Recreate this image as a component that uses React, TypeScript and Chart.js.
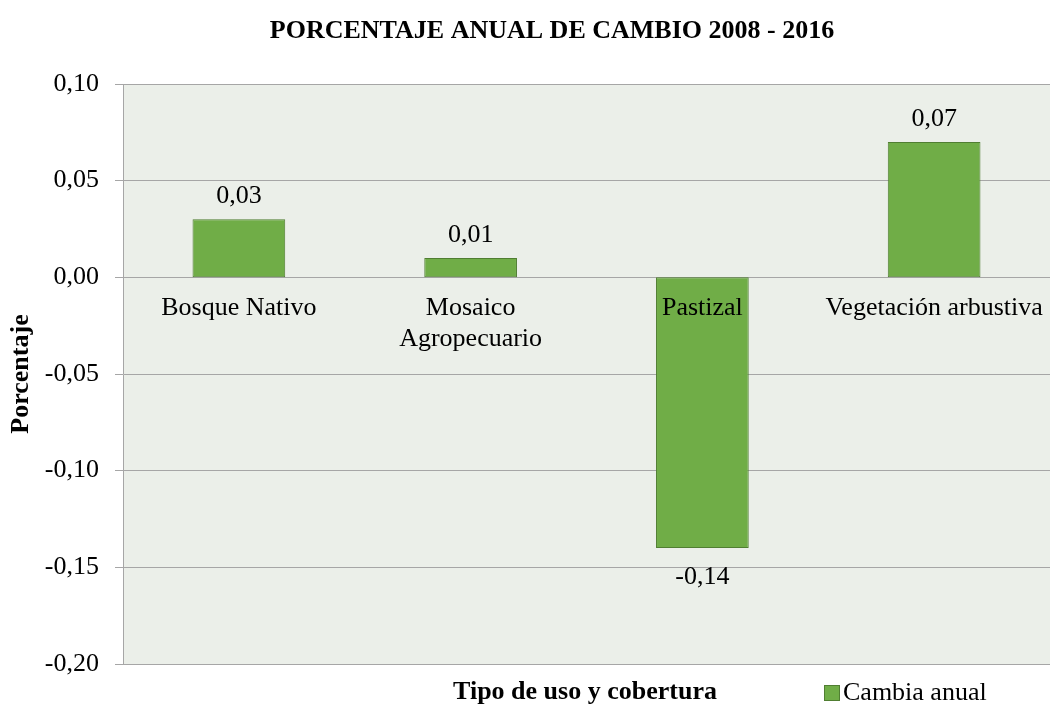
import React, { useEffect, useRef } from "react";
import { Chart, registerables } from "chart.js";

Chart.register(...registerables);

const categories: string[][] = [
  ["Bosque Nativo"],
  ["Mosaico", "Agropecuario"],
  ["Pastizal"],
  ["Vegetación arbustiva"],
];
const values: number[] = [0.03, 0.01, -0.14, 0.07];
const seriesName = "Cambia anual";
const chartTitle = "PORCENTAJE ANUAL DE CAMBIO 2008 - 2016";
const xTitle = "Tipo de uso y cobertura";
const yTitle = "Porcentaje";
const yMin = -0.2;
const yMax = 0.1;
const yStep = 0.05;

const FONT = "'Liberation Serif', 'Times New Roman', serif";
const fmt = (v: number) => {
  const r = Math.abs(v) < 1e-9 ? 0 : Math.round(v * 100) / 100;
  return r.toFixed(2).replace(".", ",");
};

export default function App() {
  const ref = useRef<HTMLCanvasElement | null>(null);
  useEffect(() => {
    if (!ref.current) return;
    const overlay = {
      id: "overlay",
      beforeDraw(chart: any) {
        const { ctx, chartArea } = chart;
        ctx.save();
        ctx.fillStyle = "#EBEFE9";
        ctx.fillRect(chartArea.left, chartArea.top, chartArea.right - chartArea.left, chartArea.bottom - chartArea.top);
        ctx.restore();
      },
      afterDatasetsDraw(chart: any) {
        const { ctx, scales } = chart;
        const x = scales.x;
        const y = scales.y;
        const zero = y.getPixelForValue(0);
        ctx.save();
        ctx.fillStyle = "#000";
        ctx.font = `26px ${FONT}`;
        ctx.textAlign = "center";
        ctx.textBaseline = "middle";
        categories.forEach((lines, i) => {
          const cx = x.getPixelForValue(i);
          lines.forEach((ln, j) => ctx.fillText(ln, cx, zero + 31 + j * 31));
        });
        ctx.textBaseline = "alphabetic";
        const meta = chart.getDatasetMeta(0);
        meta.data.forEach((bar: any, i: number) => {
          const v = values[i];
          const py = y.getPixelForValue(v);
          if (v >= 0) ctx.fillText(fmt(v), bar.x, py - 16);
          else ctx.fillText(fmt(v), bar.x, py + 36);
        });
        // title
        ctx.font = `bold 26px ${FONT}`;
        ctx.fillText(chartTitle, 552, 38);
        // x axis title
        ctx.fillText(xTitle, 585, 699);
        // legend
        ctx.fillStyle = "#70AD47";
        ctx.strokeStyle = "#507E32";
        ctx.lineWidth = 1;
        ctx.fillRect(824, 685, 15, 15);
        ctx.strokeRect(824.5, 685.5, 15, 15);
        ctx.fillStyle = "#000";
        ctx.font = `26px ${FONT}`;
        ctx.textAlign = "left";
        ctx.fillText(seriesName, 843, 700);
        ctx.restore();
      },
    };
    const chart = new Chart(ref.current, {
      type: "bar",
      data: {
        labels: categories.map((c) => c.join(" ")),
        datasets: [
          {
            label: seriesName,
            data: values,
            backgroundColor: "#70AD47",
            borderColor: "#507E32",
            borderWidth: 1,
            borderSkipped: false,
            barPercentage: 0.8,
            categoryPercentage: 0.5,
          },
        ],
      },
      options: {
        responsive: false,
        animation: false,
        layout: { padding: { top: 84, bottom: 40, left: 0, right: 2 } },
        plugins: { legend: { display: false }, tooltip: { enabled: false }, title: { display: false } },
        scales: {
          x: { display: false },
          y: {
            min: yMin,
            max: yMax,
            afterFit: (s: any) => {
              s.width = 123;
            },
            ticks: {
              stepSize: yStep,
              padding: 16,
              color: "#000",
              font: { family: FONT, size: 26 },
              callback: (v: any) => fmt(Number(v)),
            },
            grid: { color: "#A6A6A6", lineWidth: 1, tickLength: 8, drawTicks: true },
            border: { display: true, color: "#A6A6A6" },
            title: {
              display: true,
              text: yTitle,
              color: "#000",
              font: { family: FONT, size: 26, weight: "bold" },
              padding: { top: 6, bottom: 0 },
            },
          },
        },
      },
      plugins: [overlay],
    } as any);
    return () => chart.destroy();
  }, []);
  return (
    <div style={{ position: "absolute", left: 0, top: 0, width: 1052, height: 704, background: "#fff" }}>
      <canvas ref={ref} width={1052} height={704} />
    </div>
  );
}
